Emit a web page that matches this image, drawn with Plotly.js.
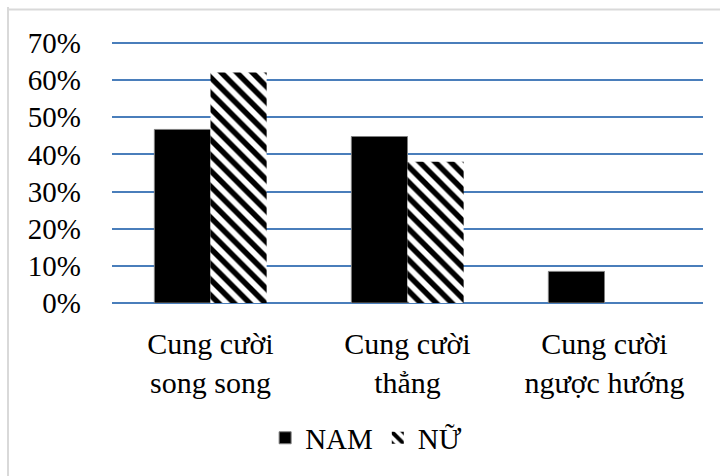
<!DOCTYPE html>
<html>
<head>
<meta charset="utf-8">
<script src="https://cdn.plot.ly/plotly-3.0.1.min.js"></script>
<style>html,body{margin:0;padding:0;background:#fff;}#chart{width:720px;height:476px;}</style>
</head>
<body>
<div id="chart"></div>
<script>
const categories = ["Cung cười<br>song song", "Cung cười<br>thẳng", "Cung cười<br>ngược hướng"];
const namValues = [0.467, 0.448, 0.085];
const nuValues = [0.62, 0.38, 0];
const yTickValues = [0, 0.1, 0.2, 0.3, 0.4, 0.5, 0.6, 0.7];
const yTickLabels = ["0%", "10%", "20%", "30%", "40%", "50%", "60%", "70%"];

const font = "'Liberation Serif', 'Times New Roman', serif";

const traces = [
  {
    type: "bar", name: "NAM", x: categories, y: namValues,
    marker: {color: "#000000", line: {color: "#7f7f7f", width: 1}},
    hoverinfo: "none"
  },
  {
    type: "bar", name: "NỮ", x: categories, y: nuValues,
    marker: {color: "#ffffff", line: {width: 0},
      pattern: {shape: "\\", fgcolor: "#000000", bgcolor: "#ffffff", size: 11, solidity: 0.5}},
    hoverinfo: "none"
  }
];

const layout = {
  width: 720, height: 476,
  margin: {l: 112, r: 17, t: 41, b: 171},
  paper_bgcolor: "#ffffff", plot_bgcolor: "#ffffff",
  font: {family: font, size: 29, color: "#000000"},
  barmode: "group", bargap: 0.43, bargroupgap: 0,
  showlegend: true,
  legend: {orientation: "h", x: 0.43, xanchor: "center", y: -0.515, yanchor: "middle",
    font: {family: font, size: 29, color: "#000000"}, itemwidth: 30, traceorder: "normal"},
  xaxis: {
    type: "category", showgrid: false, showline: false, zeroline: false, ticks: "",
    tickfont: {family: font, size: 30, color: "#000000"}, ticklabelstandoff: 20
  },
  yaxis: {
    range: [0, 0.705], tickvals: yTickValues, ticktext: yTickLabels,
    showgrid: true, gridcolor: "#4a7ebb", gridwidth: 2,
    zeroline: true, zerolinecolor: "#4a7ebb", zerolinewidth: 2,
    showline: false, ticks: "",
    tickfont: {family: font, size: 29, color: "#000000"}, ticklabelstandoff: 30
  },
  shapes: [
    {type: "line", xref: "paper", yref: "paper", x0: -0.176, x1: -0.176, y0: 1.13, y1: -0.7,
      line: {color: "#d9d9d9", width: 2}},
    {type: "line", xref: "paper", yref: "paper", x0: -0.176, x1: 1.1, y0: 1.12, y1: 1.12,
      line: {color: "#d9d9d9", width: 2}}
  ]
};

Plotly.newPlot("chart", traces, layout, {displayModeBar: false, staticPlot: true});
</script>
</body>
</html>
